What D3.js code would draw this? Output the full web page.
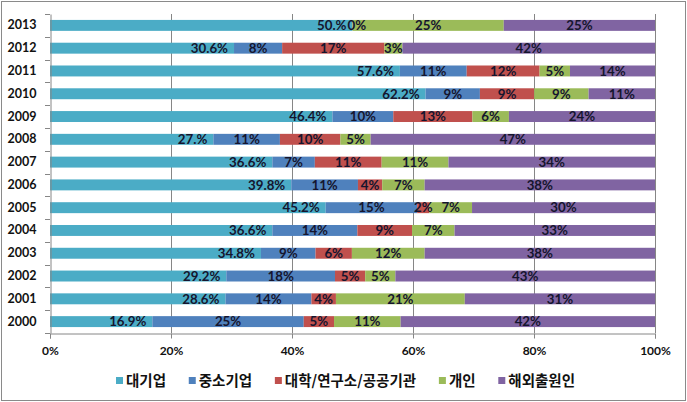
<!DOCTYPE html>
<html><head><meta charset="utf-8">
<script src="https://cdn.jsdelivr.net/npm/d3@7"></script>
<style>
html,body{margin:0;padding:0;background:#fff;}
svg{display:block;}
</style>
</head><body>
<svg id="chart" width="687" height="402"></svg>
<script>
const years = ['2000','2001','2002','2003','2004','2005','2006','2007','2008','2009','2010','2011','2012','2013'];
const seriesNames = ['대기업','중소기업','대학/연구소/공공기관','개인','해외출원인'];
const seriesKeys = ['large','sme','univ','indiv','foreign'];
const large   = [16.9, 28.6, 29.2, 34.8, 36.6, 45.2, 39.8, 36.6, 27.0, 46.4, 62.2, 57.6, 30.6, 50.0];
const sme     = [25, 14, 18, 9, 14, 15, 11, 7, 11, 10, 9, 11, 8, 0];
const univ    = [5, 4, 5, 6, 9, 2, 4, 11, 10, 13, 9, 12, 17, 0];
const indiv   = [11, 21, 5, 12, 7, 7, 7, 11, 5, 6, 9, 5, 3, 25];
const foreign = [42, 31, 43, 38, 33, 30, 38, 34, 47, 24, 11, 14, 42, 25];
const xTicks = [0, 0.2, 0.4, 0.6, 0.8, 1.0];
const colors = ['#4BACC6','#4F81BD','#C0504D','#9BBB59','#8064A2'];

(function(){
const rows = years.map((yr,i)=>({year:yr, large:large[i], sme:sme[i], univ:univ[i], indiv:indiv[i], foreign:foreign[i]}));
const stack = d3.stack().keys(seriesKeys).offset(d3.stackOffsetExpand);
const stacked = stack(rows);

const svg = d3.select('#chart');
const pLeft = 50, pRight = 655, pTop = 14, pBottom = 333;
const numFont = 'Lato, "DejaVu Sans", sans-serif';
const korFont = '"Noto Sans CJK KR", "Noto Sans", sans-serif';

// outer border
svg.append('rect').attr('x',1.5).attr('y',1.5).attr('width',684).attr('height',399)
  .attr('fill','#fff').attr('stroke','#8a8a8a').attr('stroke-width',1);

const x = d3.scaleLinear().domain([0,1]).range([pLeft,pRight]);
const y = d3.scaleBand().domain(years.slice().reverse()).range([pTop,pBottom]).paddingInner(0.52).paddingOuter(0.26);

// gridlines
svg.append('g').selectAll('line').data(xTicks.slice(1)).join('line')
  .attr('x1',d=>Math.round(x(d))+0.5).attr('x2',d=>Math.round(x(d))+0.5)
  .attr('y1',pTop).attr('y2',pBottom)
  .attr('stroke','#868686').attr('stroke-width',1);

// bars
const g = svg.append('g');
stacked.forEach((s,si)=>{
  g.append('g').selectAll('rect').data(s).join('rect')
    .attr('x',d=>x(d[0])).attr('width',d=>Math.max(0,x(d[1])-x(d[0])))
    .attr('y',d=>y(d.data.year)).attr('height',y.bandwidth())
    .attr('fill',colors[si]);
});

// x axis
const xAxis = d3.axisBottom(x).tickValues(xTicks).tickSize(5).tickFormat(d=>Math.round(d*100)+'%');
const xg = svg.append('g').attr('transform',`translate(0,${pBottom+0.5})`).call(xAxis);
xg.select('.domain').attr('stroke','#868686');
xg.selectAll('.tick line').attr('stroke','#868686');
xg.selectAll('.tick text').attr('font-family',numFont).attr('font-size','12px').attr('font-weight','bold')
  .attr('fill','#111').attr('y',13);

// y axis
const yAxis = d3.axisLeft(y).tickSize(0).tickPadding(14);
const yg = svg.append('g').attr('transform',`translate(${pLeft+0.5},0)`).call(yAxis);
yg.select('.domain').attr('stroke','#868686');
yg.selectAll('.tick text').attr('font-family',numFont).attr('font-size','12.5px').attr('font-weight','bold').attr('fill','#111');
svg.append('g').selectAll('line').data(d3.range(years.length+1)).join('line')
  .attr('x1',pLeft-5).attr('x2',pLeft)
  .attr('y1',i=>Math.round(pTop + i*(pBottom-pTop)/years.length)+0.5)
  .attr('y2',i=>Math.round(pTop + i*(pBottom-pTop)/years.length)+0.5)
  .attr('stroke','#868686');

// labels
const fmtLarge = v => { let s = v.toFixed(1); if (s.endsWith('0')) s = s.slice(0,-1); return s + '%'; };
const fmtOther = v => Math.round(v) + '%';
const lab = svg.append('g').attr('font-family',numFont).attr('font-size','13.3px').attr('font-weight','bold').attr('fill','#15152e');
stacked.forEach((s,si)=>{
  // a zero-width segment whose label would sit exactly on an earlier zero label is not drawn twice
  const data = s.filter(d => !(si > 1 && d[1]-d[0] === 0 && stacked[si-1][s.indexOf(d)][1]-stacked[si-1][s.indexOf(d)][0] === 0));
  lab.append('g').selectAll('text').data(data).join('text')
    .attr('x',d=> si===0 ? x(d[1])-6 : (d[1]-d[0]===0 ? x(d[0])-5 : (x(d[0])+x(d[1]))/2))
    .attr('y',d=>y(d.data.year)+y.bandwidth()/2)
    .attr('dy','0.36em')
    .attr('text-anchor', d=> si===0 ? 'end' : (d[1]-d[0]===0 ? 'start' : 'middle'))
    .text(d=> si===0 ? fmtLarge(d.data[seriesKeys[si]]) : fmtOther(d.data[seriesKeys[si]]));
});

// legend
const lg = svg.append('g');
const ly = 381;
const items = [];
seriesNames.forEach((n,i)=>{
  const it = lg.append('g');
  it.append('rect').attr('x',0).attr('y',ly-4).attr('width',7).attr('height',7).attr('fill',colors[i]);
  const t = it.append('text').attr('x',10).attr('y',ly).attr('dy','0.36em')
    .attr('font-family',korFont).attr('font-size','14.5px').attr('font-weight','bold').attr('fill','#111').text(n);
  const w = 10 + t.node().getComputedTextLength();
  items.push({it, w});
});
const lStart = 116, lEnd = 575;
const gap = Math.max(8, (lEnd - lStart - d3.sum(items, d=>d.w)) / (items.length-1));
let start = lStart;
items.forEach(d=>{ d.it.attr('transform',`translate(${start},0)`); start += d.w + gap; });
})();
</script>
</body></html>
